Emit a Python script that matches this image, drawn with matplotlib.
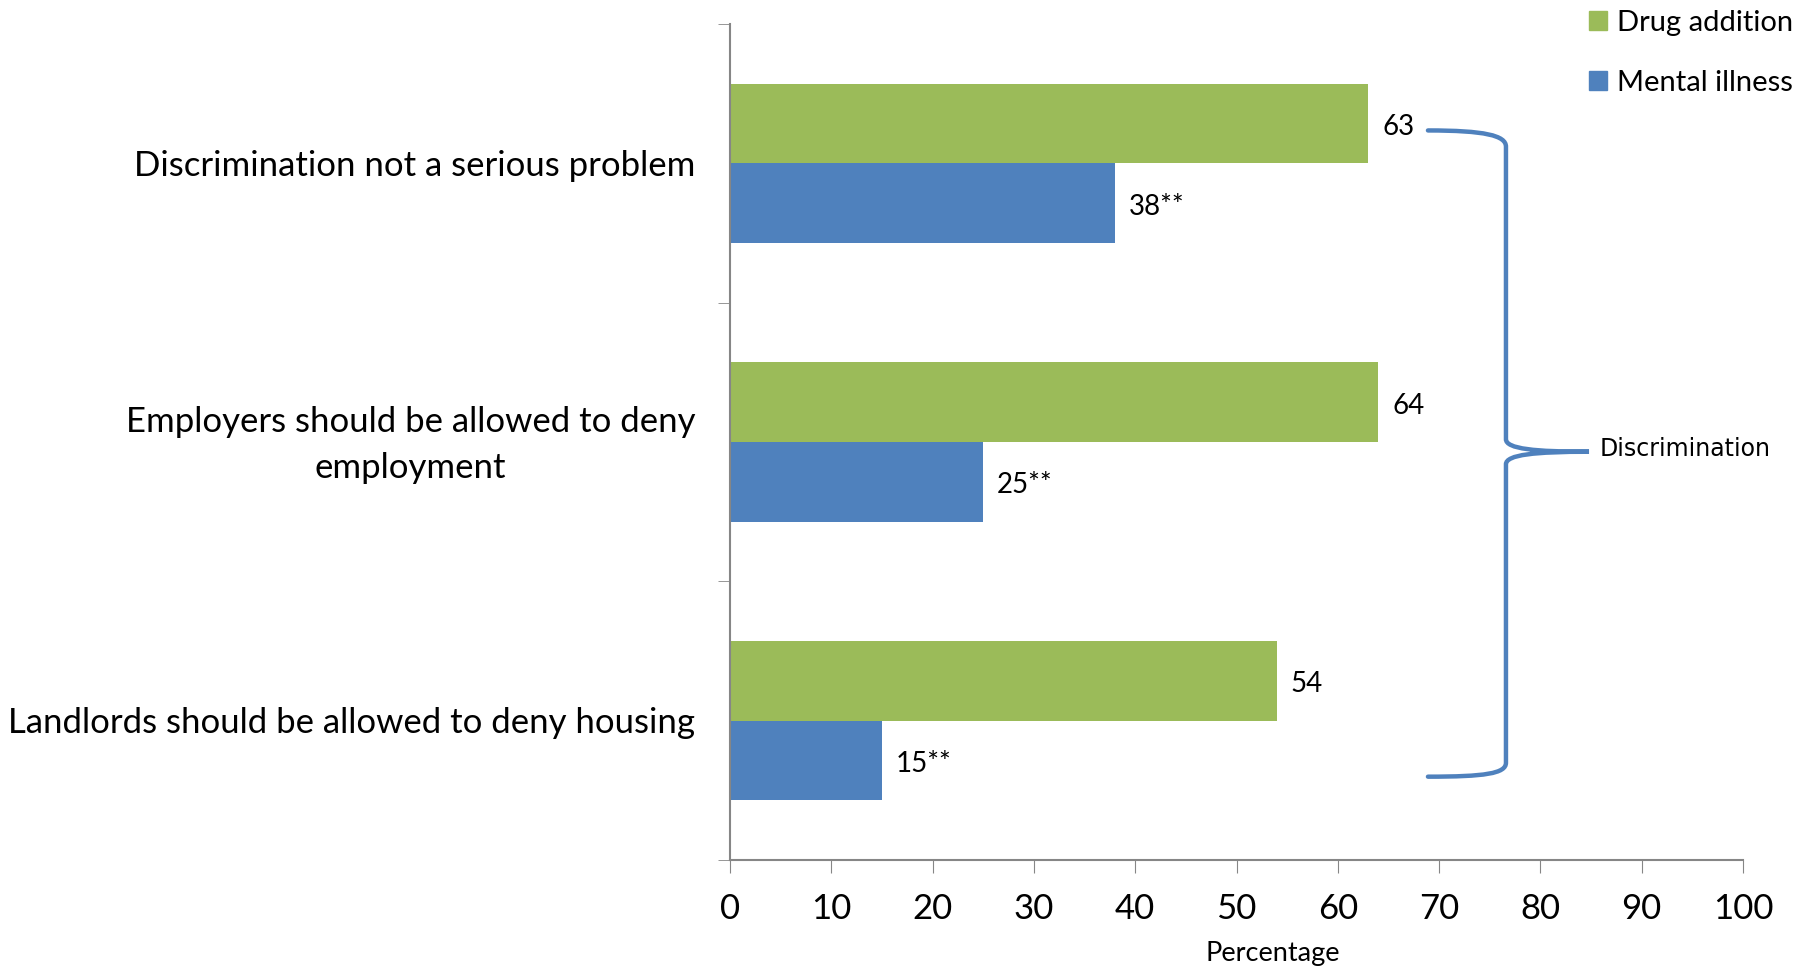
import numpy as np
import matplotlib
matplotlib.use('Agg')
from matplotlib import pyplot as plt
from matplotlib.path import Path
from matplotlib.patches import PathPatch, Patch

categories = ['Discrimination not a serious problem',
              'Employers should be allowed to deny\nemployment',
              'Landlords should be allowed to deny housing']
drug = [63, 64, 54]
mental = [38, 25, 15]
mental_labels = ['38**', '25**', '15**']
x_ticks = list(range(0, 101, 10))

GREEN = '#9BBB59'
BLUE = '#4F81BD'
GREY = '#868686'

plt.rcParams['font.family'] = ['Lato', 'DejaVu Sans']

fig = plt.figure(figsize=(18.12, 9.71), dpi=100)
ax = fig.add_axes([730 / 1812, 1 - 860 / 971, (1743 - 730) / 1812, (860 - 24) / 971])

y = np.arange(len(categories))[::-1]
h = 0.286
ax.barh(y + h / 2, drug, height=h, color=GREEN, label='Drug addition')
ax.barh(y - h / 2, mental, height=h, color=BLUE, label='Mental illness')

for yi, v in zip(y, drug):
    ax.annotate(str(v), (v, yi + h / 2), xytext=(10, -2.5), textcoords='offset points',
                va='center', ha='left', fontsize=20)
for yi, v, lab in zip(y, mental, mental_labels):
    ax.annotate(lab, (v, yi - h / 2), xytext=(10, -2.5), textcoords='offset points',
                va='center', ha='left', fontsize=20)

ax.set_xlim(0, 100)
ax.set_ylim(-0.5, 2.5)
ax.set_xticks(x_ticks)
ax.tick_params(axis='x', length=9, color=GREY, labelsize=25, pad=15)

# category labels written as text so the two-line one centres on its row
ax.set_yticks(y)
ax.set_yticklabels([])
for yi, cat in zip(y, categories):
    ax.annotate(cat, (0, yi), xycoords=('axes fraction', 'data'), xytext=(-25, -2),
                textcoords='offset points', ha='right', va='center',
                multialignment='center', linespacing=1.55, fontsize=25)
ax.set_yticks(np.arange(-0.5, 3, 1), minor=True)
ax.tick_params(axis='y', which='major', length=0)
ax.tick_params(axis='y', which='minor', length=9, color=GREY)

for s in ['top', 'right']:
    ax.spines[s].set_visible(False)
ax.spines['left'].set_color(GREY)
ax.spines['bottom'].set_color(GREY)
ax.spines['left'].set_linewidth(1.5)
ax.spines['bottom'].set_linewidth(1.5)

ax.set_xlabel('Percentage', fontsize=19.5)
ax.xaxis.set_label_coords(0.536, -0.097)

# curly brace grouping the three items
verts = [(68.9, 2.118), (74.5, 2.118), (76.6, 2.10), (76.6, 2.06),
         (76.6, 1.01),
         (76.6, 0.975), (79.5, 0.965), (84.8, 0.965),
         (79.5, 0.965), (76.6, 0.955), (76.6, 0.92),
         (76.6, -0.151),
         (76.6, -0.19), (74.5, -0.201), (68.9, -0.201)]
codes = [Path.MOVETO, Path.CURVE4, Path.CURVE4, Path.CURVE4,
         Path.LINETO,
         Path.CURVE4, Path.CURVE4, Path.CURVE4,
         Path.CURVE4, Path.CURVE4, Path.CURVE4,
         Path.LINETO,
         Path.CURVE4, Path.CURVE4, Path.CURVE4]
ax.add_patch(PathPatch(Path(verts, codes), facecolor='none', edgecolor=BLUE,
                       lw=3.2, clip_on=False, capstyle='round'))
ax.text(85.8, 0.975, 'Discrimination', fontsize=17, va='center', ha='left',
        family='DejaVu Sans')

handles = [Patch(color=GREEN), Patch(color=BLUE)]
fig.legend(handles, ['Drug addition', 'Mental illness'], loc='upper left',
           bbox_to_anchor=(1563 / 1812, 1.017), frameon=False, fontsize=21,
           handlelength=0.6, handleheight=0.6, handletextpad=0.35, labelspacing=1.16)

fig.savefig('out.png', dpi=100)
